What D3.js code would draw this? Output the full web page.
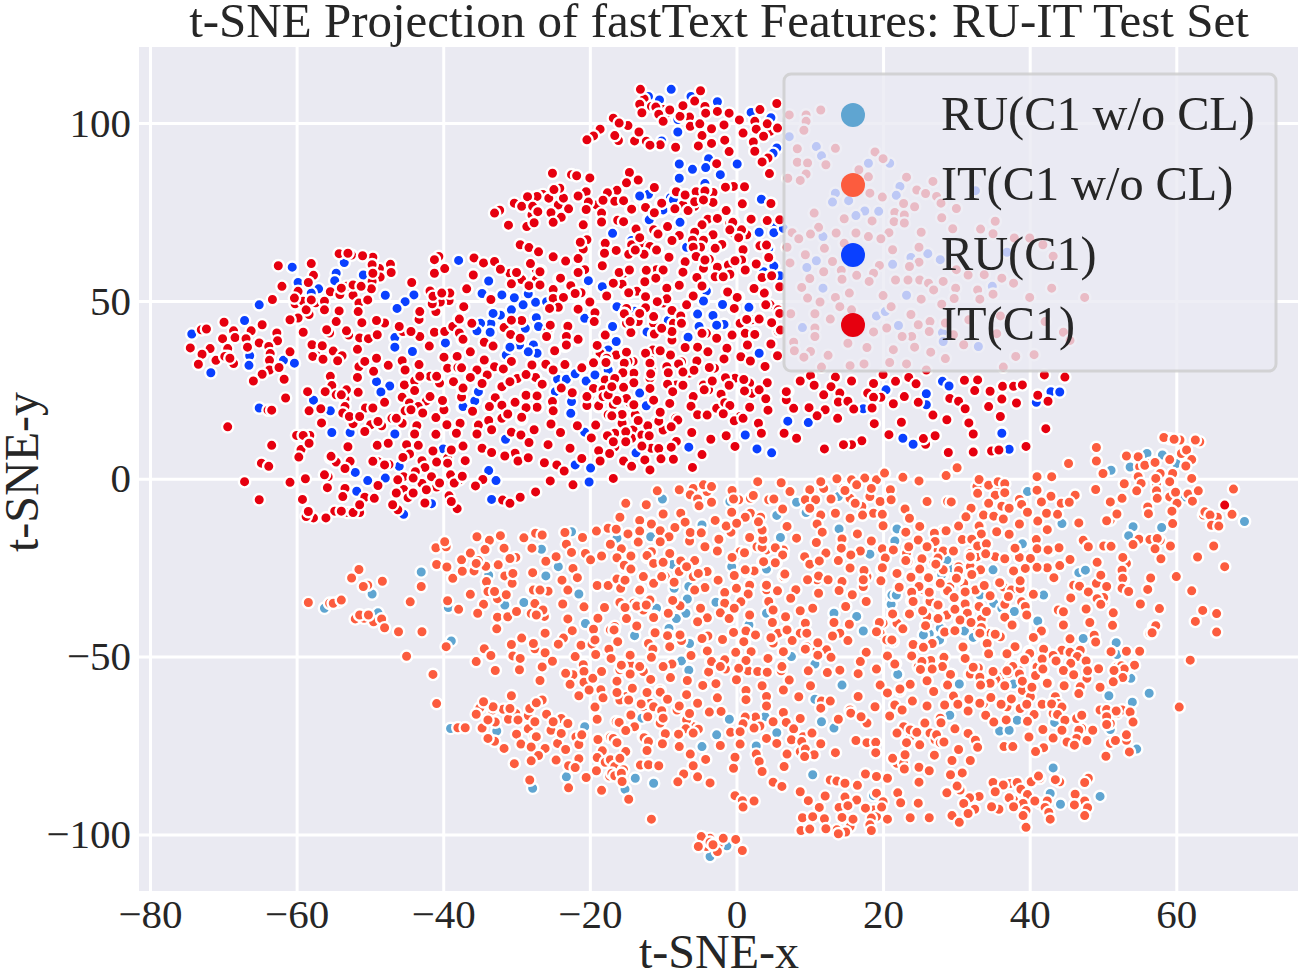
<!DOCTYPE html>
<html>
<head>
<meta charset="utf-8">
<script src="https://cdn.jsdelivr.net/npm/d3@7"></script>
<style>
  html, body { margin: 0; padding: 0; background: #fff; }
  text { font-family: "Liberation Serif", serif; fill: #262626; }
</style>
</head>
<body>
<div id="chart"></div>
<script>
const xTicks = [-80, -60, -40, -20, 0, 20, 40, 60];
const yTicks = [-100, -50, 0, 50, 100];
const legendLabels = ["RU(C1 w/o CL)", "IT(C1 w/o CL)", "RU(C1)", "IT(C1)"];
const seriesColors = ["#5fa5d1", "#fc5c3e", "#0a40ff", "#e6000f"];

// values, [t-SNE-x, t-SNE-y]
const ruBase = [[-43,-26.2],[-49.7,-32.4],[-56.2,-36.4],[-48.9,-37.7],[-38.9,-45.6],[-26.6,-19.8],[-29,-34.8],[-21.5,-32.4],[-26,-27.3],[-24.3,-24.7],[-31.6,-35.5],[-33.8,-27.1],[-20.6,-40.7],[-39,-70.2],[-32.7,-70.9],[-20.7,-69.7],[-23.2,-83.8],[-27.8,-87],[-39.3,-36.2],[-16.4,-16.8],[-22.5,-14.9],
[-10.1,-5.7],[-.9,-6.4],[8.2,-6.6],[5.5,-10.3],[9.5,-9.5],[13.9,-5],[14,-14.1],[6,-16.5],[21.9,-14.1],[21.6,-17.5],[18.2,-21.2],[-8.7,-24],[-.65,-24.7],[4.1,-25.2],[-6.5,-30.3],[-6.7,-33.8],[-2.8,-34.7],[21.7,-32.9],[21.1,-35.3],[16.4,-38.7],[13.3,-37.8],[17.3,-42.8],[-13.9,-44.1],[1.7,-41.1],[-6.4,-46.2],[7.5,-50],[10.7,-52.1],[-7.5,-51.2],[-6.5,-53.8],[22,-55.1],[14.4,-58],[10.7,-62],[11.6,-68.3],[13.3,-70.1],[-.97,-67.6],[-2.7,-72],[-4.7,-75.3],[2.7,-75.1],[-12.9,-67.3],[10.4,-83.2],[-11.3,-85.6],[-13.8,-84.2],[-15.2,-87.3],[18.7,-89.1],[26.3,-43.6],[27.8,-45.3],[27.8,-42],[25.7,-43.4],[3.9,-66.9],[5.5,-71.4],[-3.6,-106.2],[-1.3,-103.2],[-16.3,-16.7],
[69.3,-12],[56,7.1],[53.7,3.3],[51.1,2.4],[39.7,-3.6],[44.4,-12.6],[54.1,-13.5],[58,-13.7],[53.5,-16],[39.1,-18.5],[46.7,-26.4],[47.6,-25.7],[41.9,-32.8],[37.9,-37.3],[41.1,-40],[47.3,-44.9],[51.8,-46.1],[31.2,-43],[32.3,-44.7],[29.4,-25.2],[28.1,-27.1],[33.2,-33],[35.1,-35],[30.4,-57.9],[50.8,-61],[56.3,-60.3],[54,-62.8],[29.1,-66.5],[38.3,-67.9],[35.9,-70.9],[37.2,-70.7],[43.4,-68.5],[43.2,-81.3],[49.6,-89.3],[44.2,-91.5],[42.8,-88.5],[54.6,-76],[58.1,6.7],[60,4.3],[61.2,-5.1],[51.9,-49.4],[53.8,-56.1],[38,-57.8],[51,-70.5],
[-4.7,-13],[-11.7,-16.3],[6,-16.5],[-8.7,-24.1],[4.1,-25.4],[-8.5,-30.8],[-10.9,-36.4],[-6.9,-37.8],[-8.2,-39.3],[-9.2,-42.1],[-6.4,-46.3],[4.1,-37.8],[6.4,-43],[29.4,-25],[41.9,-32.7],[39,-18.3],[26.3,-43.6],[27.7,-45.3],[31.1,-42.8],[32.3,-44.6],[25.5,-43.9],[22,-55],[30.4,-57.7],[26.3,-34.1],[28,-27],[21.2,-32.7],[21.8,-32.7],[26.2,-39.2],[28.7,-22.8],[36.2,-36.4],[37.8,-57.7],[33.2,-32.7],[35,-25.6]];

const itBase = [[-51.5,-25.5],[-52.5,-27.9],[-50.3,-29.9],[-48.3,-28.8],[-58.4,-34.8],[-54.3,-34.7],[-55.5,-35],[-44.5,-34.6],[-43,-30.3],[-52,-39.4],[-50.8,-39.2],[-49.5,-40.2],[-48.4,-39.4],[-48,-41.9],[-46.1,-43],[-42.9,-43],[-45,-49.9],[-39.6,-47.2],[-41.4,-55],[-40.9,-63.2],[-40.9,-24.1],[-41,-19.4],[-39.6,-19.1],[-39.5,-24.8],[-38.7,-28],[-39.4,-34.3],[-37.9,-36.7],[-37.5,-22.8],[-36.3,-20.9],[-35.4,-16.3],[-33.7,-17.3],[-32.2,-16],[-29,-16.6],[-27.4,-15.3],[-26.5,-15.8],[-31.7,-19.5],[-34.3,-19.9],[-37.4,-26],[-35.8,-25.9],[-34.2,-24.6],[-32.5,-24.2],[-35.2,-23],[-30.1,-22.1],[-31.6,-27.3],[-30.6,-29.4],[-27.9,-19.5],[-34,-30.2],[-36.3,-32.5],[-32.6,-33.7],[-31.4,-32.6],[-34.5,-35.3],[-35.3,-37.8],[-32.6,-38.9],[-31.2,-38.8],[-30,-37.3],[-32.7,-42.2],[-28,-37.9],[-27.5,-35.1],[-26.2,-38.7],[-27.9,-31.1],[-25.7,-31.6],[-27.8,-26.4],[-26,-23.2],[-24.6,-21.9],[-23.4,-15.1],[-23.2,-18.4],[-22.5,-20.7],[-21,-16.5],[-19.1,-14.7],[-17.2,-18.4],[-17.5,-13.9],[-20.6,-21],[-18.4,-21.7],[-19.9,-22.8],[-22.3,-25.2],[-21.7,-27.8],[-23.8,-28.5],[-19,-30],[-17.5,-30],[-23,-31.3],[-23.7,-35.2],[-20.8,-36],[-18,-36.2],[-23,-39.4],[-18.9,-39.2],[-16.7,-42.5],[-19.5,-42.3],[-22.4,-42.7],[-23.6,-44.8],[-26.1,-43.4],[-29.3,-44.8],[-30.7,-46.6],[-27.5,-47.8],[-24.3,-46.5],[-21.2,-46.8],[-19.7,-46.5],[-17.4,-47.9],[-34.4,-47.8],[-33.5,-49.7],[-30.5,-49.8],[-35.5,-51.4],[-32.9,-53.9],[-29.6,-53.7],[-26.1,-48.9],[-25.1,-51.3],[-22,-50],[-19.2,-49.4],[-17.1,-50.5],[-26.5,-52.9],[-26.8,-56.7],[-22.3,-55.1],[-23.3,-54.7],[-20.9,-52.3],[-20.8,-54.2],[-18.4,-54.2],[-22.7,-57.8],[-20.8,-57.2],[-19.6,-56.1],[-21.5,-61],[-20.1,-59.4],[-18.5,-59.3],[-18.2,-61.6],[-19.3,-64.2],[-19,-67.6],[-16.4,-68.3],[-30.7,-61],[-26.5,-62.2],[-35,-64.4],[-33.3,-65],[-31.8,-64.8],[-30.1,-66],[-28.4,-66.6],[-25.9,-66.2],[-23.9,-67.4],[-31.1,-67.6],[-32.9,-68.4],[-38,-70],[-37,-70],[-34.7,-70.1],[-28.4,-70.3],[-27.5,-68.3],[-25.3,-70.7],[-23,-68.8],[-30,-71.8],[-33,-73.8],[-27.6,-72.4],[-21.9,-72.6],[-29.4,-74.6],[-24.4,-74.4],[-21.5,-74.7],[-18.9,-73.3],[-17.2,-72.7],[-31.7,-75.8],[-28,-75.4],[-26.1,-75.8],[-23.3,-76.1],[-18.3,-76.5],[-27,-77.8],[-24.6,-79.1],[-28,-79.3],[-30.3,-80.1],[-21.5,-78.7],[-19,-78.4],[-22.9,-80.7],[-22,-81.2],[-17.9,-79.7],[-19.1,-82.1],[-16.6,-80.5],[-20.5,-84],[-17.3,-83.6],[-28.2,-84.7],[-22.9,-86.9],[-18.4,-87.6],
[-55,-35],[-53.9,-34.1],[-51.4,-38.3],[-50.2,-38.3],[-50.9,-30.3],[-39.8,-17.7],[-35.5,-23.8],[-34.1,-28.9],[-33.9,-31.7],[-33,-31.7],[-30.5,-26.6],[-27.7,-31.3],[-26.8,-31.3],[-26.4,-36.9],[-27.3,-38.3],[-30.9,-22.4],[-33.2,-64.1],[-34.5,-62.7],[-35.5,-66.2],[-33.9,-67.8],[-33.9,-73],[-30.9,-64.6],[-29.8,-67.8],[-28.2,-64.6],[-27.3,-63],[-25,-68.3],[-23.9,-71.6],[-27.3,-72.5],[-21.1,-72],[-19.3,-45.3],[-27.7,-46.3],[-29.5,-50.5],[-16.8,-73],
[14.6,-2.7],[15.7,-.3],[17.5,.2],[19.1,-.3],[15.5,-5.5],[18.2,-5],[21,-3.1],[17.1,-7.8],[18.7,-9.7],[10,-3.1],[9.4,-5.9],[11.9,-2.7],[-5.9,-2.7],[-6.3,-4.5],[-4,-3.6],[.3,-5.9],[4.4,-5.9],[1.9,-5.5],[-.2,-21.9],[2.8,-19.1],[4.1,-20],[6.4,-20],[1.4,-26.1],[6.4,-27.5],[4.1,-31.2],[4.4,-34.5],[5.7,-43.4],[6.9,-42.5],[5,-46.2],[8.7,-43.4],[9.6,-47.2],[11,-48.1],[12.3,-48.1],[14.1,-43.4],[19.6,-43.4],[21.4,-45.8],[20,-40.6],[21.9,-40.6],[26,-38.7],[26.4,-34.5],[25.5,-31.2],[28.2,-25.6],[26.9,-23.7],[27.5,-20],[19.8,-25.6],[17.8,-27.5],[17.3,-30.3],[11,-28.4],[11.6,-64.5],[15.5,-65],[17.8,-68.7],[22.8,-69.7],[23.7,-72.5],[26.4,-71.5],[27.1,-73.4],[21.9,-80],[22.8,-80],[12.8,-84.7],[19.1,-88.4],[18.7,-93.1],[16.4,-90.3],[19.1,-95],[13.7,-98.7],[15.5,-97.8],[-4.1,-103.4],[-3.6,-101.1],[-2.5,-102.9],[-12.7,-72.5],[-10.4,-68.7],[-5.9,-69.7],[2.8,-69.7],[9.1,-72.5],[9.1,-75.3],[8.7,-76.7],[-17.2,-79],[-16.6,-80.9],[-15.4,-81.8],[-17,-82.8],[-15.9,-53.7],[-15,-61.2],[-15.9,-62.2],[-12.7,-64.1],[-10.4,-59.4],[-11.8,-63.1],[-8.1,-65],[-6.8,-67.8],[-14,-35],[-12.7,-36.9],[-17.2,-42.5],[-16.6,-41.5],[-14.5,-52.3],
[60.7,7.1],[61.4,8.1],[63.2,10.4],[60.5,10.9],[59.1,11.3],[55,3.4],[56.4,4.3],[57.8,1.5],[54.8,.6],[57.3,-1.3],[59.1,-5.1],[61.6,-4.3],[63.7,-10.2],[65,-10.7],[56.9,-17.7],[57.8,-17.3],[51,-11.6],[53.2,-23.8],[52.8,-28.5],[46,-29.9],[49.1,-29.4],[49.1,-33.2],[50.1,-34.6],[43.9,-36.9],[56.9,-41.6],[56.4,-43.5],[51.9,-52.9],[53,-53.8],[47.8,-56.1],[46.9,-58.5],[49.6,-65],[51,-66],[51.9,-66],[52.6,-65],[51,-68.8],[47.1,-70.2],[46,-74.9],[53.2,-73.5],[51,-74.4],[41.4,-84.2],[44.1,-85.2],[48,-84.2],[35.5,-86.1],[37.3,-85.7],[41.4,-91.3],[37.8,-90.3],[30.5,-87.5],[38.7,-6],[32.8,-2.2],[35.7,-3.2],[33.2,-13.5],[31.9,-21],[32.8,-21.9],[35.3,-21.9],[30.3,-24.7],[31.9,-24.7],[29.1,-30.4],[31,-29.4],[32.6,-31.3],[36.4,-30.4],[37.5,-31.3],[33.7,-37.9],[32.8,-41.6],[34.6,-43.5],[36,-44.4],[43.7,-50.5],[41,-52.9],[36,-55.7],[33.7,-56.6],[33.7,-63.2],[36.9,-64.1],[43.5,-61.3],[43.9,-63.2],[46.4,-67.4],[43.2,-66],
[-10.8,-3.4],[-7.8,-3.1],[-4.5,-1.7],[-3.4,-2.2],[-.6,-3.3],[2.9,-.8],[6.1,-1.1],[7.3,-3.6],[11.5,-.8],[13.7,0],[16.4,-1.7],[18.4,-2.7],[20.2,1.6],[22.7,.4],[24.9,-.6],[-15.1,-6.9],[-12.3,-7.3],[-5.3,-5.7],[-3.4,-6.6],[-.4,-5.7],[2.3,-4.7],[5.1,-5.7],[10.8,-5.9],[12.9,-5.7],[14.8,-3.3],[16.2,-6.9],[19.6,-6.4],[21.1,-5.9],[26,-6.4],[28.8,-6.4],[-10,-9.9],[-7.6,-9.7],[-5.1,-7.6],[-.65,-9.4],[1.9,-9.7],[6.3,-8.5],[10,-8.3],[11.5,-10.2],[13.5,-9.7],[15.5,-11.1],[17.2,-10.2],[19.9,-10],[23,-8.5],[23.6,-11.1],[-15.9,-10.8],[-13.2,-11.7],[-11.6,-12.5],[-7,-12.2],[-2.9,-11.7],[0,-12.5],[1.2,-10.8],[3.3,-10.8],[-1.5,-13.1],[6.9,-13.4],[11,-12.7],[20,-13.2],[25,-13.4],[28.2,-14.6],[27,-15.3],[-16.4,-14.2],[-13.2,-14.7],[-10.4,-14.7],[-8.4,-13.6],[-6.3,-15],[-4.8,-15],[-.75,-15],[3.4,-13.9],[11.7,-15],[16.5,-15.5],[23.1,-15],[-14.7,-15.5],[-9.1,-16.2],[-2.4,-17],[1.8,-16.5],[3.6,-17.2],[8.2,-16.7],[14.4,-16.9],[18.4,-17.5],[24.8,-17.2],[27.1,-17.6],[-13.5,-17.8],[-10.5,-17.6],[-6.4,-17.5],[-15.7,-19.7],[-4.4,-19],[10.9,-17.9],[.5,-20.5],[5.3,-19.3],[3.5,-19.3],[14.3,-19.5],[16.9,-20.3],[19.9,-19.7],[21.3,-20],[23.4,-19.2],[26,-19.1],[-11.6,-20.5],[-9.1,-20.9],[-2.6,-20.3],[1.2,-20.7],[6.3,-21.4],[12.2,-20.9],[9.3,-21.9],[15.6,-21.4],[23.2,-20.9],[20.3,-22.3],[28.2,-20.3],[-16.3,-22.2],[-14.3,-21.7],[-12.2,-22.1],[-7.6,-23],[-5.6,-23],[-.6,-22.1],[3.6,-23.3],[5.4,-23.6],[10,-24],[11.3,-23.1],[13.9,-23],[19.9,-25],[25.3,-22.5],[27.5,-22.3],[-11.3,-23.9],[-10,-24.2],[-15.3,-24.7],[-7.8,-26.1],[-3.9,-26.1],[2.4,-25.9],[-14.4,-25.4],[17.4,-25.8],[15.5,-25.1],[23.4,-23.3],[24.9,-25.3],[-16.3,-28.2],[-12.7,-27.5],[-9.7,-27.5],[-5.9,-27.5],[-.3,-27.2],[6.6,-26.8],[11.2,-27.3],[12.5,-28.4],[14.4,-28.9],[9.7,-28.4],[17.3,-28.4],[19.7,-28.7],[22,-26.6],[23.9,-27.5],[26.2,-27.3],[-11.3,-29.4],[-8.5,-29.1],[-4.3,-30.6],[0,-30.8],[1.8,-29.8],[4.1,-29.8],[8.1,-31.2],[-15.8,-30.8],[-13.1,-31.2],[22.2,-30.3],[25,-30.3],[27.7,-29.6],[11.2,-32.2],[14,-31.4],[15.8,-32.6],[5.5,-31.7],[1.6,-32.2],[-1.6,-32],[26.3,-32],[28.7,-31.7],[7.4,-33.6],[-8.7,-34],[17.7,-34.5],[23.9,-34.3],[-1.6,-34.8],[.6,-34.3],[-11.8,-34],[-15.9,-34.8],[-13.6,-35.6],[-15.3,-36.1],[-12.3,-35.3],[-7.7,-35.7],[-5,-36.2],[-.3,-36.4],[5,-36.9],[8.7,-37.1],[10.4,-36.4],[14.9,-35.9],[21.3,-38.3],[23.6,-38],[27.5,-35.5],[28.7,-38.3],[-9.3,-37.8],[-2.1,-37.6],[1.8,-38.3],[6.8,-38.9],[-11.2,-38.7],[-15,-39.2],[-4.1,-38.9],[27.5,-39],[-1,-39.2],[-5.3,-40.3],[4.9,-40.4],[9.4,-40.6],[13.3,-40.4],[15.4,-40.9],[19.5,-40.4],[25.8,-41.3],[-13.6,-41.3],[-11.1,-43.1],[-16.7,-42.5],[-9.3,-44],[-.4,-43.2],[1.3,-42.9],[-4,-44.2],[2.6,-43.9],[9.6,-43.4],[13.1,-44.2],[19.1,-43],[22.7,-42.2],[28.4,-43.1],[-12,-46.2],[-7.5,-45.5],[-1.9,-45.3],[1.1,-45.9],[4.7,-44.8],[7.6,-45.5],[11.1,-46.1],[15.2,-45.5],[20.5,-45.3],[24.2,-46.5],[26.7,-46.2],[-16.2,-45.8],[-11.3,-47.8],[-14.5,-49.5],[-6.2,-49.7],[-4,-48.4],[-.1,-48.8],[2,-48.6],[6.5,-48.6],[9.4,-47.9],[17.7,-48.8],[-11.6,-50.2],[-1.6,-50.9],[-3.5,-51.4],[4.4,-50.5],[1.3,-51.1],[11.1,-49.6],[12.9,-50.2],[20.6,-49.8],[23.9,-49.8],[28.3,-50],[25.3,-51.4],[-8.8,-52.1],[-15.6,-52.8],[16.9,-51.4],[21.7,-52],[26.6,-51.4],[-3.8,-54.3],[-1.5,-53.5],[.3,-53.8],[1.6,-54],[2.9,-54.2],[4.2,-54.4],[6.1,-54],[9.8,-54],[12.4,-54.5],[14.1,-53.8],[16.6,-54.8],[19.1,-53.5],[24.8,-52.8],[-14.5,-54.9],[-12.7,-54.2],[-16.3,-56.9],[-11.7,-56.4],[-9,-55.9],[-6.7,-56.7],[0,-56.5],[7.2,-56.6],[28.7,-58],[26,-56.6],[-4.6,-58.1],[-2.8,-57.6],[3.5,-58.2],[10.1,-58.2],[19.6,-58],[23.7,-58],[-14.2,-58.9],[-16.3,-60.1],[-12.2,-60.1],[-10.4,-60],[-6.8,-60.7],[1.3,-59.5],[6.4,-59.4],[20.6,-60.2],[22.3,-59.7],[26.9,-59.8],[-14.7,-62.2],[-9.4,-62],[-2.6,-61.6],[1.3,-62.1],[4.1,-61.2],[8.5,-61.3],[11.6,-62.5],[12.8,-62.5],[16.6,-61.2],[-13,-63.3],[-5.3,-63.1],[24,-62.5],[-11.3,-64.1],[-7.8,-63.9],[21.6,-63.6],[26,-63.9],[4.1,-63.9],[11.5,-64.5],[18.9,-64.1],[28.4,-63.6],[-10.2,-65.2],[-2.1,-65.4],[6.4,-65.7],[22.6,-65],[15.6,-65.9],[-14.4,-66.4],[-6.4,-66],[-3.7,-65.6],[-12.1,-66.9],[-10,-67.3],[2.6,-67],[20.9,-66.7],[1.2,-67],[8.7,-67.4],[17,-66.9],[27.8,-67.3],[-16,-68.5],[5,-68.3],[25.7,-68.7],[13.9,-67.6],[.9,-68.9],[6.8,-68.5],[-13.9,-69.7],[-6.9,-70.3],[3.2,-69.5],[2.4,-70.1],[7.8,-70.3],[23.7,-70.6],[-15.1,-70.8],[-5.2,-70.4],[-.8,-71.3],[.5,-71.1],[10.3,-71.5],[21.9,-71.5],[24.6,-71.3],[27.3,-72],[-9.7,-71.7],[-12.6,-72.8],[-7.9,-71.8],[-5.9,-71.5],[4.1,-73],[5.5,-74.4],[7.5,-73.4],[16.3,-73.6],[17.8,-74.2],[19,-74.1],[23.2,-74.2],[25,-74.8],[27.8,-74.2],[-16.3,-74.2],[-12,-73.9],[-10.1,-74.5],[-2.2,-75],[.5,-74.6],[-7.8,-75.3],[8.9,-73.9],[11.5,-74.5],[2.7,-77.4],[-6.3,-77.4],[6.9,-77.4],[9.4,-76],[10.6,-77.6],[13.5,-77],[19,-77],[21.3,-78.6],[23,-77.6],[27,-77.7],[-15.1,-76.7],[-12.2,-76.4],[-15.9,-78.6],[-4.2,-78.9],[-.2,-78.3],[3.1,-79.5],[-13.1,-80.5],[-12,-80.4],[-10.6,-80.7],[-5.9,-80.7],[-.4,-81.4],[6.5,-80.9],[9.3,-78.1],[22.9,-81.6],[24.9,-81.1],[26.3,-82.1],[3.5,-82.3],[-16.6,-83.5],[-15.7,-82.8],[-7.2,-83],[-5.3,-83.8],[17.6,-83],[5,-85.3],[20.6,-84.2],[19.1,-83.7],[13.7,-85],[14.8,-85.6],[16.5,-86.2],[-8,-85.2],[-3.6,-85.5],[24.9,-85.3],[6.2,-86.5],[-15.6,-85.1],[8.7,-88],[12.1,-89.2],[22,-88.3],[28.7,-88.2],[-14.7,-90.1],[-.2,-89.1],[2.4,-90.6],[.8,-90.5],[9.8,-90.5],[14.8,-89.5],[20,-90.8],[22.4,-91.1],[24.8,-91.2],[.9,-92.3],[11.3,-92.4],[14,-92.4],[15.2,-91.9],[17.6,-92.6],[19.8,-92.3],[-11.6,-95.7],[9,-95.3],[10.4,-95],[12,-95.6],[14.4,-95.2],[15.9,-95.7],[18.4,-95.4],[20.6,-95.7],[23.7,-95.3],[26.3,-95.3],[18.2,-97.3],[8.8,-98.9],[10,-98.5],[12.2,-98.4],[18.4,-98.9],[14.9,-99.3],[13.9,-99.8],[-4.8,-100.6],[-1.8,-101.1],[-.1,-101.4],[-3.6,-102.2],[.8,-104.5],[-2.6,-104.8],[-3.2,-102.9],[-5.2,-103.4],
[49.1,8.8],[45.3,4.3],[49.1,5],[30.1,3.1],[28.6,.9],[53.2,6.4],[54.8,6.2],[58.3,11.6],[59.7,11.1],[62.6,10.9],[55.7,3.8],[57.1,4.6],[59.1,5.4],[62.1,5.4],[61.3,3.6],[50,1.5],[41,.6],[43,.6],[33.1,-.2],[34.4,-1.8],[35.7,-.8],[36.6,-1.4],[57.2,.1],[59.5,1.5],[62.1,.1],[55.2,-1.3],[59.1,-.8],[52.9,-1.4],[49,-3],[41,-3.2],[54.6,-3.4],[67.8,-2.9],[63,-3.4],[57.3,-3.4],[59.9,-3.8],[32.9,-4.1],[35.3,-4.6],[36.6,-3.9],[42.9,-4.9],[46.2,-4.6],[52.6,-5.5],[38.6,-5.8],[57.4,-5.5],[29.3,-6.5],[34.4,-6.9],[38.9,-7.2],[41.6,-6.5],[44.3,-6.9],[45.4,-6.6],[51,-6.5],[60.1,-6.9],[62.2,-6.3],[36.2,-7.7],[32,-8.3],[37.2,-8.3],[39.7,-9.4],[42.3,-9.7],[43.8,-10],[56.1,-7.9],[56.2,-9.8],[59.4,-9.1],[63.9,-9.3],[67.6,-10],[51.9,-9.9],[33.7,-10.2],[31.3,-10.7],[35.1,-10.5],[36.4,-11.3],[65.6,-10.8],[64.6,-10.2],[50.5,-11.8],[41.1,-11.9],[38.6,-12.7],[46.7,-12.4],[30.3,-13.3],[33.1,-13.3],[35.5,-14.9],[59.5,-12.6],[64.8,-13.1],[65.8,-13.3],[42.4,-14.3],[28.6,-14.6],[54.9,-17],[33.4,-15.5],[37.2,-15.6],[56.4,-17.1],[57.4,-16.8],[30.8,-17.1],[32.1,-17],[40.9,-17.1],[47.3,-17.3],[48,-19.1],[54.1,-18.5],[34.1,-18.5],[32.9,-18.9],[50.1,-18.9],[51.1,-19],[59.2,-18.9],[65.1,-18.9],[37.9,-19.7],[41,-19.7],[42.8,-20.2],[44,-19.4],[57.1,-19.7],[29.6,-20.3],[31.9,-22],[36.6,-22.6],[38.6,-22.1],[40.1,-22.5],[45.5,-22.7],[52.7,-22.1],[57.9,-22.5],[62.9,-22],[49.2,-23.5],[34,-21.1],[42.4,-25],[44.1,-24.4],[39.5,-25.2],[37.8,-26],[66.6,-24.7],[32.1,-26.9],[33.2,-25.7],[52.6,-25.7],[52.7,-28],[56.5,-27.9],[49.7,-27.1],[60,-27.5],[43.3,-28],[35.9,-29.2],[38.7,-28.8],[30.2,-28.3],[46.8,-30.2],[50.5,-30.3],[33.8,-30.1],[31.2,-31.9],[38.7,-30.9],[52.6,-30.8],[53.5,-31.7],[56.1,-31.1],[62.1,-31.5],[48,-31.8],[40.5,-32.5],[28.7,-31.8],[34.6,-32.9],[37.1,-33.2],[50.1,-33.4],[45.6,-33.5],[49.2,-33.7],[55.1,-35.2],[31.2,-35.3],[29.7,-33.4],[38.9,-34.6],[39.4,-36],[36.6,-35.3],[33.2,-36.1],[47.7,-36.6],[49.7,-35.3],[57.7,-36.5],[63.6,-37],[65.5,-37.9],[29.8,-36.7],[44.6,-37.4],[51.4,-37.7],[34.1,-37.4],[31.6,-37.9],[39.6,-38.5],[62.6,-40.1],[36.6,-38.8],[30.5,-39.8],[32,-40.4],[33.4,-39.5],[48.2,-40.4],[37.7,-41.1],[44.6,-41.1],[51.3,-41.2],[57.2,-41.3],[33.4,-41.8],[41.7,-42.9],[29.8,-42.5],[56.7,-43.3],[65.5,-43.1],[33.2,-43.8],[35.3,-43.7],[48.8,-44],[40.6,-44.7],[45.5,-45],[34.2,-46.3],[49,-45.9],[30.9,-47.3],[38,-47.3],[42,-48],[44.4,-48.2],[46.9,-48.2],[39.9,-48.6],[51.1,-48.6],[53.2,-48.5],[55,-48.5],[34.4,-49.3],[36.9,-49.3],[43,-49.6],[45.5,-48.8],[31.3,-50.4],[28.3,-50.2],[41.7,-50.7],[39.2,-50.8],[43.6,-51.2],[46.5,-50],[47.7,-51.2],[61.9,-51],[54.3,-52.4],[28.1,-52.7],[32.9,-53.3],[37.4,-52.6],[45.6,-51.9],[52.5,-52.6],[49.4,-53.4],[47.9,-54],[52.9,-53.5],[41.8,-53.6],[44.6,-53.9],[51.5,-53.9],[29.3,-55.1],[31.8,-55],[38.6,-54],[46,-55.1],[37.1,-54.7],[33.2,-55.9],[35.4,-56.4],[39.1,-57.1],[41,-55.5],[52.7,-55.9],[42.3,-57.1],[51.4,-57.1],[34.7,-57.5],[28.8,-58.1],[33.4,-58.2],[36.6,-58.2],[42.5,-57.4],[44.7,-58.2],[49.6,-58.6],[39,-59.5],[40.3,-58.9],[46.7,-60.4],[60.4,-64.2],[29.6,-61.1],[34.7,-61.5],[37.5,-61.9],[40.1,-61.3],[31.7,-62],[33.2,-63.1],[30.2,-63.4],[36.1,-63.4],[41.7,-63.4],[43,-63.3],[38.7,-64.6],[44.4,-64.2],[39.6,-63.4],[31.6,-65.3],[50.5,-64.9],[34,-66.5],[40.6,-66.3],[43.8,-66.3],[47.1,-66.5],[51.8,-65.3],[53.7,-65.6],[35.1,-68.4],[36.8,-67.8],[39.7,-68.2],[44.8,-67.9],[50.5,-66.9],[27.9,-68.6],[54.1,-68.4],[50.5,-69.1],[29.8,-70.3],[41.8,-70.5],[44.4,-70.7],[48.6,-70.7],[46.7,-70.7],[31.6,-71.6],[39.9,-72.6],[53.2,-72],[43.2,-72.9],[46.4,-73],[32.6,-73.5],[45.1,-74],[47.8,-73.6],[51.7,-73.6],[28.3,-74],[36.5,-75.3],[37.7,-75.3],[32.9,-75.5],[30.3,-76.1],[41.9,-75.6],[40.8,-76.7],[46.1,-74.9],[53.6,-76.8],[50.4,-78],[29.4,-79.2],[31.9,-79.2],[30.8,-82.7],[29.2,-83.2],[43.5,-84.6],[35,-85.4],[38.3,-85.4],[40.2,-85.2],[47.5,-85.4],[41.2,-83.6],[30.1,-86.4],[36.4,-86.1],[38.8,-87.3],[35.3,-88],[28.7,-88.3],[39.7,-88.8],[46.2,-88.7],[33.1,-89.3],[31.8,-89.7],[37.2,-89.7],[42.4,-90.6],[40.7,-90.6],[39.1,-91.3],[47.5,-90.6],[46.1,-91.7],[31,-91.3],[47.9,-92.5],[42.1,-92.4],[32.5,-92.9],[35.8,-92.9],[34.8,-92.2],[37.8,-92.2],[39.5,-93.3],[42.6,-93.8],[31.6,-94.1],[39.1,-94.7],[29.4,-94.7],[47.5,-94.7],[42.8,-95.7],[30.4,-96.6],[39.5,-98],
[-11.6,-12.7],[-8.4,-13.7],[-13.2,-14.7],[-14.8,-15.5],[-10.4,-14.6],[-9.2,-16.3],[-10.4,-17.7],[-13.4,-17.8],[-6.3,-15.1],[-4.8,-15.2],[-1.4,-13.3],[.03,-12.5],[-2.4,-17],[1.8,-16.5],[3.6,-17],[-4.3,-19.1],[-2.6,-20.3],[1.1,-20.8],[3.5,-14.4],[3,-12.1],[5.3,-19.4],[6.3,-21.4],[-9.1,-21],[-11.6,-20.5],[-12.2,-21.6],[-14.4,-21.7],[-11.3,-23.8],[-10,-23.5],[-7.6,-23.1],[-5.7,-23],[-15.3,-24.3],[-14.4,-25.4],[-7.8,-26.1],[-4,-26.1],[2.4,-25.9],[3.7,-23.3],[5.3,-23.6],[1.2,-25.6],[-6.8,-24.7],[-5.2,-26.6],[-11.3,-29.4],[-8.5,-29.1],[-12.7,-27.5],[-10.2,-27.5],[-2.5,-28.5],[1.8,-29.9],[4.1,-29.9],[6.6,-26.8],[0,-30.8],[-1.6,-32],[5.6,-31.5],[1.6,-32.4],[-13.2,-31.3],[-8.7,-34.2],[-11.8,-34.1],[-13.6,-35.8],[-12.3,-35.5],[-15.2,-36.2],[-4.9,-36.4],[-1.6,-35],[.6,-34.6],[-.3,-36.4],[5,-36.9],[-9.3,-37.8],[-2.2,-37.7],[1.8,-38.3],[-11.3,-39],[-15,-39.3],[-3.97,-39.1],[-1,-39.3],[-5.3,-40.2],[6.7,-38.8],[-13.6,-41.4],[-11.1,-43.3],[-.4,-43.2],[1.3,-42.8],[-3.9,-44.2],[2.6,-43.9],[-9.4,-44.1],[-7.5,-45.5],[-12,-46.3],[-1.9,-45.2],[1,-45.8],[4.7,-44.7],[-11.4,-47.9],[-14.5,-49.6],[-6.2,-49.7],[-3.97,-48.4],[-.1,-48.8],[2,-48.6],[6.4,-48.6],[-8.8,-52.1],[-11.6,-50.2],[-1.6,-50.9],[-3.4,-51.4],[4.3,-50.5],[1.3,-51.1],[-15.7,-52.4],[-9.1,-47.2],[-7.7,-43.9],[-13.2,-52.8],[-10,-52.8],[.3,-53.3],[6.2,-52.8],[-2.2,-52.8],[-4.7,-44.9],[-15.2,-28.5],[-5.7,-31.3],
[23.5,-19.1],[21.4,-20],[26,-19.1],[29.6,-20.3],[32.9,-18.9],[34.1,-18.3],[23.1,-23],[25.3,-22.5],[27.2,-24],[31.9,-21.9],[34,-21.1],[36.6,-22.5],[38.6,-22.1],[40.1,-22.4],[42.5,-20],[38,-19.5],[21.9,-26.6],[23.8,-27.7],[25,-25.4],[26.2,-27.8],[33.3,-25.6],[30.3,-25.8],[32.1,-26.9],[35.9,-29.2],[38.7,-28.7],[37.8,-25.9],[39.4,-25.2],[41,-24.9],[43.3,-27.8],[24.9,-30.3],[27.7,-29.7],[31.2,-31.8],[33.8,-30],[34.6,-32.9],[37.1,-33.1],[26.3,-31.9],[23.9,-31.9],[22.2,-30.5],[28.8,-31.5],[40.5,-32.5],[29.7,-33.4],[24.1,-34.5],[27.5,-35.5],[31.2,-35.2],[33.1,-35.9],[36.6,-38.9],[39.4,-35.9],[39.6,-38.3],[21.3,-38],[23.6,-38],[25.4,-37.1],[27.5,-39.3],[29.8,-36.7],[31.5,-37.8],[34.1,-37.3],[37.6,-41.1],[30.5,-39.7],[32,-40.4],[33.4,-41.8],[22.7,-42.2],[29.8,-42.7],[35.3,-43.7],[33.2,-43.4],[41.6,-42.8],[40.5,-44.6],[21.2,-45.3],[24.1,-46.6],[26.7,-46.3],[25.5,-47.4],[30.9,-47.3],[34.2,-46.3],[38,-47.2],[41.9,-47.9],[40,-49.1],[43.2,-49.7],[23.9,-49.8],[21.6,-52.1],[28.3,-50.2],[26.5,-51.1],[25.3,-51.4],[31.2,-50.5],[34.4,-49.2],[36.9,-49.2],[39.3,-50.9],[41.7,-50.7],[43.6,-51.2],[28.1,-52.8],[26.7,-53.5],[25.1,-53.6],[37.7,-52.8],[33,-53.2],[31.9,-54.9],[29.2,-55],[35,-54.2],[36.9,-54],[38.6,-54.9],[40.8,-55.3],[41.8,-53.5],[26,-56.8],[33.2,-55.8],[34.6,-57.5],[36.6,-58.2],[39,-56.9],[42.4,-57.5],[23.7,-57.8],[28.8,-58],[33.3,-58],[40.3,-58.6],[22.3,-59.1],[32.3,-53],[30,-28],[27.8,-29.4]];

const ruC1 = [[-74.3,40.7],[-67.1,44.5],[-60.6,59.5],[-53.5,60.8],[-54.6,57.8],[-50.9,57.3],[-54.8,55.7],[-57,53.4],[-58,52.2],[-59.8,55.2],[-47.9,51.6],[-65.1,48.9],[-44,51.7],[-45.2,49.8],[-46.3,47.9],[-37.9,61.4],[-46.6,39.7],[-46.6,37],[-44.2,35.8],[-39.7,38.2],[-66.4,34.6],[-66.5,31.9],[-60.3,32.5],[-71.7,29.8],[-61.8,33.3],[-49.1,27.3],[-47.3,26.1],[-48.5,24.4],[-57.7,22.1],[-55.4,19.1],[-65.1,19.9],[-37.4,20.2],[-55.2,13],[-52.7,13],[-46.6,12.6],[-52,1.8],[-50.3,-.5],[-47.9,.2],[-51.8,-3.5],[-46,3.5],[-40,8.4],[-41.6,-7],[-45.4,-10],
[-34.7,52.2],[-30.4,51],[-29.1,48.9],[-27.5,49.6],[-32.1,46.1],[-33.5,43.4],[-34.9,43.7],[-33.6,41.1],[-27.4,45.4],[-27.7,37.6],[-31.4,34.8],[-29.6,37.6],[-30.9,37.2],[-35.7,21.9],[-35.2,24.3],[-37.3,20.2],[-16.9,42.8],[-16.4,38.6],[-13.8,47],[-12.2,41.4],[-6.6,39.7],[-5.4,46.3],[-3.3,45.9],[-1.7,43.4],[-4.5,50],[-1.9,49.1],[1.7,48.2],[3.1,35.3],[-20.5,27.6],[-24.4,28],[-23.2,28],[-13.2,24.1],[-22.6,18.3],[-20.7,13.1],[-31.5,11.1],[-12.3,20.5],[-19.9,3],[-20.1,-.9],[1.2,12.3],[-6.5,8.9],[4.8,7.3],[-33.8,2.3],[-32.8,-.5],[-33.4,-5.8],[-22,3.9],[-13.7,7.3],[2.8,8.4],[6.9,16.1],
[7.2,96.2],[10.9,93.4],[11.6,90.8],[18,88.7],[20.9,88.7],[22.3,82.2],[13.5,80.3],[21.8,79.7],[32.6,81],[13.1,77.8],[15.3,78.2],[17.5,75.3],[19.4,75.2],[16.3,74],[11.8,68.1],[26.1,63.3],[10.9,61.3],[21.3,60.3],[9.6,59.4],[27.8,61.6],[23.8,62.2],[36.9,63.7],[11.8,53.6],[34.9,54.1],[23.2,51.6],[19.1,45.8],[20.3,47],[22.1,43.1],[9,42.5],[28.1,41.1],[33,37.2],[28.2,38.6],
[7,16.2],[9.8,15.8],[17.3,19.7],[20.4,25],[25.9,23.9],[28.1,27.4],[29,26.1],[42.9,24.5],[44.1,24.4],[36.2,13],[37.2,8.3],[24.1,9.7],[22.7,11.4],[40.9,21.5],[25.9,20.8],[36.2,12.8],
[-8.9,109.5],[-12,107.5],[-10.5,106.5],[-6.2,107.5],[-2.6,106],[-8,101],[-10.2,95],[-8,97.5],[2,103],[4.7,101.5],[5.5,93],[5,91.5],[.1,88.5],[-3.8,90],[-7.8,88.5],[-6,87],[-4.2,87.5],[-7.8,84.5],[-2.2,85.5],[-4.3,83],[-12,80],[-9,79],[-13.2,79],[-8.2,78],[-10.3,75.2],[-12,73],[-7.7,72.2],[-16.9,69],[-14.3,67],
[-33.8,55.6],[-34.7,52.1],[-30.3,50.9],[-29.1,48.9],[-27.4,49.6],[-32.2,46],[-33.5,43.6],[-34.9,43.7],[-35.4,41.6],[-33.6,41.2],[-27.3,45.3],[-27.7,37.6],[-31.4,34.8],[-29.6,37.6],[-30.9,37],[-20.2,55.7],[-18.3,54],[-16.9,42.8],[-16.4,38.6],[-33.2,46.5],[-32,51.7],[-28.4,52],[-25.9,49.8],[-30.7,47.5],[-25.9,42.8],[-28.8,42.3],[-27,42.8],[-27.2,35.3],[-28.4,35.7],[-20.5,27.5],[-24.4,28],[-23.2,28],[-35.7,21.9],[-35.2,24.5],[-37.3,20.3],[-22.6,18.4],[-24.7,24.5],[-22,29.5],[-19.3,29.2],[-17.5,36.2],[-16.3,48.4],[-20.7,45.1],[-22.5,21.7],[-17.5,30.6],
[-13.2,79.5],[-10,75.6],[-8.6,78.4],[-11.9,72.8],[-7.7,72.1],[-6.8,65.1],[3.1,69.3],[5.1,71.5],[5.1,69.2],[4.4,64.8],[5.1,59.8],[3.7,58.2],[5.9,57.1],[3.4,78.6],[-4.1,52.8],[-4.5,50],[-1.9,49],[1.7,48.2],[-13.9,47.1],[-9.3,44.5],[-5.3,46.3],[-3.2,45.9],[-1.7,43.4],[-5.1,42.8],[-2.7,43.2],[-12.2,41.3],[-6.6,39.8],[6.4,70.4]];

const itC1 = [[-62.5,59.9],[-58,60.5],[-54.2,63.3],[-52.5,62.9],[-49.6,62.3],[-47.2,60.3],[-47.1,58],[-48.7,59.1],[-48.6,56.7],[-57.7,57.2],[-58.4,55.2],[-49.7,55.5],[-49.8,53.4],[-62,54.1],[-59.8,52.7],[-55.4,52.6],[-54.1,51.8],[-52.3,51.6],[-63.3,50.4],[-60.2,49.2],[-59.1,49.9],[-57.4,49.5],[-56.2,49.9],[-56.2,47.5],[-54.2,47.2],[-51.5,49.4],[-50.3,50.3],[-51.6,47],[-58.3,46.2],[-59.8,45.2],[-60.9,44.7],[-54.6,44.2],[-51.1,43.9],[-69.9,44],[-64.7,43.3],[-73,41.9],[-68.6,41.6],[-66.2,41.6],[-70.1,39.4],[-68.4,39.7],[-66.9,39.4],[-62.7,41],[-62.6,38.8],[-65.1,38.2],[-66.7,37],[-74.5,36.8],[-71.8,36.6],[-69.4,36.6],[-72.9,35],[-63.8,37.2],[-63.6,35.2],[-60.9,35.7],[-71,33.3],[-69.4,34.4],[-68.6,32.4],[-73.4,32.2],[-63.7,33.3],[-63.7,30.6],[-62.4,31.3],[-64.7,29.4],[-65.9,27.5],[-61.7,28],[-59.1,41.2],[-55.5,41],[-52.9,40.4],[-51.4,39.6],[-50.2,39.4],[-57.9,37.7],[-56.5,37.4],[-55,35.9],[-57.2,34.5],[-53.8,34.6],[-51.7,36.4],[-49.1,33.9],[-51.5,31.5],[-47.5,31.9],[-49.5,30.2],[-51.7,28.5],[-55.4,28.8],[-55.2,26.2],[-56.1,24.5],[-58.5,24.5],[-61.5,22.7],[-63.9,19.3],[-53.4,22.4],[-51.6,24.3],[-53.4,20.3],[-56.7,19.7],[-58.3,19.1],[-48,21.5],[-50.6,19.9],[-52.3,15.5],[-56.6,15.7],[-49.9,15.2],[-48.4,14.9],[-50.7,13.3],[-69.4,14.6],[-58.2,12.2],[-59.9,12],[-53,9],[-63.4,9.4],[-59.4,8.2],[-49,9.4],[-47.5,10],[-64.8,4.4],[-63.8,3.5],[-55.4,5.9],[-54.6,4.7],[-52.7,4.9],[-53.4,2.9],[-48.9,4.8],[-47.4,4],[-55.7,.6],[-58.8,0],[-60.9,-1],[-67.1,-.8],[-48.9,-1.9],[-55.8,-2.5],[-53.4,-2.7],[-53.7,-5],[-50.7,-5.2],[-49.4,-5.5],[-59.2,-5.8],[-65.1,-5.9],[-46.2,-8.7],[-54.8,-9.1],[-51.4,-9.5],[-57.7,-11],[-58.7,-10.6],[-56,-11],[-45.5,41.4],[-43.2,40],[-41.9,37.3],[-45.6,33.2],[-43.3,32.1],[-45.2,30.6],[-45.3,26.4],[-43.9,27.5],[-43.9,24.8],[-42.3,21.9],[-45.6,22.9],[-44.6,21.3],[-45.2,19.1],[-43.4,20.3],[-45.6,15.6],[-43.6,14.9],[-43.9,12.6],[-47,17],[-45,9.6],[-43.4,9.4],[-44.6,7],[-45.5,6],[-42.9,5.1],[-42.5,3.2],[-43.8,2],[-45.4,.6],[-41.6,.6],[-42.9,-1.3],[-45.4,-3],[-40.9,-2.3],[-44.8,-5.3],[-42.5,-6.8],[-41.4,7.8],[-40.9,4.7],[-39.4,5.8],[-39,1.1],[-37.4,.6],[-37,5.1],[-39.2,-4.8],[-38.1,-8.4],[-37.3,9.3],[-41,12.5],[-38.3,13.1],[-39.5,15.2],[-37.7,15.6],[-41,17.2],[-39.9,19.4],[-40.1,22],[-37.5,23],[-37.4,25.7],[-40.5,26.9],[-38.7,27.2],[-39.4,31.1],[-38.1,31.2],[-39.9,34.2],[-38.1,34.3],[-37.4,39.1],[-41.2,41.2],[-39.8,41.4],[-37.9,45],[-41,47],[-37.3,48.3],[-39.2,50.1],[-40.4,49.7],[-41.5,49.2],[-41.8,52.8],[-36.8,53.4],[-41.2,57.8],[-39.8,59.1],[-40.6,62.5],[-44.3,55.2],[-43.3,44.8],[-48,43.8],
[-51,62.7],[-72.3,42.1],[-53,63.4],[-49.7,60.2],[-55.9,41.9],[-53.2,41.6],[-49.1,44.5],[-49,40.5],[-46,42.8],[-44.4,41.4],[-69.8,34.4],[-69.1,33.9],[-57.8,34.4],[-56.4,33.6],[-54.4,33.2],[-50.7,33],[-53.2,25],[-54.6,23.6],[-53.9,23.6],[-53.7,18.5],[-52.8,17.5],[-51.4,17.5],[-49.6,19.9],[-48.9,16.1],[-63.4,19.3],[-60,12.2],[-59.1,12.2],[-58.3,10],[-59.7,6.1],[-56.2,1.1],[-55.3,6.3],[-49.6,4.9],[-48,3.9],[-46.9,-7.3],[-53,-9.5],[-52.3,-9.5],[-53.9,-9.1],[-51.4,-7.3],[-58.4,-9.2],[-46.4,17],[-44.4,19.4],[-41.8,23.1],[-42.8,18.5],[-41.8,28.8],[-43.2,28.8],[-40.9,28.8],[-38.7,42.8],[-37.8,41],[-39.1,52.2],[-41.4,51.3],[-43.2,47],[-40.2,52.2],[-49.6,57.8],[-53.2,54.1],[-52.3,54.5],[-51.2,54.1],[-53.9,53.6],[-60.3,50.8],[-58.7,47.5],[-58,50.3],[-41.2,61.6],[-39.4,4.4],[-38.9,8.1],[-37.8,-.3],[-38.5,-1.2],[-46.2,-.3],[-46.4,-4],[-44.1,.2],[-44.1,-4],[-42.3,-3.1],[-40.5,-1.2],[-38.9,-6.4],
[-14.8,33],[-11.4,36.2],[-11.8,33.4],[-11.6,30.6],[-11.8,28.3],[-16.3,26.9],[-19.1,25],[-20,23.1],[-16.8,20.8],[-14.5,21.2],[-13.8,18],[-17.5,18],[-16.1,12.8],[-16.6,12.8],[-16.6,9],[-14.1,13.7],[-14.3,11.4],[-12.9,12.3],[-12.7,9.5],[-11.6,8.6],[-8.2,10.5],[-8.3,17],[-10,13.7],[-10.9,16.1],[-3.8,25],[-3.2,27.8],[-2.7,19.8],[-.7,20.3],[.5,17.5],[-3,31.1],[-4.1,40.9],[-2.7,39.5],[-10,49.4],[-8.6,43.7],[-11.3,43.7],[-15,47.9],[-13.8,45.1],[-15,43.7],[-18.6,35.3],[-14.1,33],[-16.4,34.8],[-17.7,33.9],[-9,34.8],[-9.5,31.5],[-7.5,32.9],[-6.4,29.7],[-8.2,26.4],[-4.5,26.4],[-.2,28.3],[1.8,26.9],[2.1,24],[.5,43.7],[1.2,40.9],[2.1,44.7],[4.6,48.9],[5.7,47.5],[5.7,41.4],
[-12.6,106.8],[-11.6,104.7],[-10,103.8],[-9.5,102.8],[-6.4,101.7],[-4.3,104.7],[-7.7,101.9],[-16.8,101.4],[-16.1,95.1],[-12.3,94.9],[2.5,100.5],[4.6,97.7],[4.3,90.2],[-.4,82.2],[-3.2,80.5],[-5.7,76.6],[-7.3,77],[-24.3,77],[-23.6,78.9],[-26.4,79.9],[-27.2,79.4],[-24.1,81.7],[-32.3,75.5],[-22.5,85.5],[-19.1,77],[-20.4,67.2],[-27.9,74.2],[-15.4,72.4],[-11.3,70],[-3.2,68.6],[-.4,69.1],[-.9,71.9],[1.4,68.6],[5.9,72.8],[-14.3,65.8],[-12.7,65.8],[-11.8,65.3],[-30.9,57.8],[-29.3,56],[-27.3,58.8],[-20.7,58.8],[-15.4,57.8],[-10.9,58.8],[-20.9,52.2],[-13.6,52.7],
[-13.1,109.5],[-4.9,109.1],[-5.7,106.2],[-13.2,105.3],[-11,104.5],[-7.3,104.9],[-12.9,102.9],[-10.6,102.5],[-9.1,103.7],[-10,100.5],[-4.2,102.8],[-2.6,103.3],[-1,102.8],[3.2,103.8],[5.5,105.5],[-6.3,99.1],[-5,99.8],[-3.4,98.4],[-1.7,99.5],[.4,100.9],[2.7,98.3],[4.2,99.8],[5.6,98.6],[.9,97.2],[3.7,96.3],[-4.7,96.5],[-1.6,95.2],[-3.4,94.3],[-5.2,93.6],[2.3,94.7],[-8.3,93.2],[-10.4,93.9],[-11.8,93.8],[-13.9,95],[-13.3,97.5],[-14.8,99.3],[-16,100],[-16.6,96.5],[-18.6,98.3],[-19.5,96.4],[-20.4,95.3],[2.5,92.1],[3.5,89.1],[-1,92],[4.5,85.8],[-2.7,88.6],[-25.1,85.9],[-21.8,85.2],[-20,84.6],[-14.6,86.1],[-15,83.2],[-13.4,84],[-11.2,81.9],[-8.3,80.9],[-16.3,81.1],[-17.6,80.4],[-20.5,80.7],[-21.6,79.5],[-1.5,82],[1.1,82.1],[-4.2,81.2],[-5.4,80.8],[-7,79.9],[-3.2,77.7],[.8,77.3],[4.7,77.4],[-28.5,79.3],[-25.6,78.9],[-24.9,81.3],[-30.3,77.5],[-29.3,76.6],[-27.8,76.6],[-22.9,75.9],[-27.1,75.1],[-25.3,74.8],[-23.9,73.5],[-33,74.7],[-31.1,71.3],[-28.6,70.9],[-27.6,72],[-25,72.1],[-20.9,71.4],[-20.2,77.8],[-20.5,75.7],[-18.2,78.3],[-15.4,78.3],[-16.6,78],[-18.4,74.7],[-18.4,72.2],[-14.4,75.8],[-12.4,76.2],[-10.3,77.5],[-11.2,74.7],[-8.5,75.8],[-6.6,75.4],[-16.2,72.7],[-9.4,70.9],[-13.7,70.2],[-10.7,68.9],[-13.2,67.9],[-7.9,68.4],[-8.7,67],[-17.9,66.2],[-20.9,64.6],[-21.3,66.5],[-29.5,65.8],[-28.3,65],[-27,63.8],[-25,62.4],[-16.4,64.2],[-18,63.4],[-14.7,63.2],[-12.6,63.3],[-10.8,64.4],[-9.2,62.5],[-7,61.1],[-5.9,66.9],[-4.8,65.2],[-4.4,67.2],[-5.7,69.4],[-3.8,73],[-2.5,73.4],[-1.4,75.5],[-.4,72.4],[1.9,73],[4.2,72.6],[.3,67.9],[.7,70],[3.2,65.7],[.9,64.4],[-2.1,65.8],[-3.7,62],[-2.6,59.7],[.7,61.5],[-1.1,60.2],[2.7,60.4],[4.4,62.3],[-35.8,62.1],[-34.5,60.7],[-33,61.1],[-32.2,58.9],[-28.1,60.5],[-26.7,58.5],[-30,58],[-23.3,61.2],[-21.6,61.9],[-21.6,58],[-24.2,56.3],[-18.3,59.9],[-14.6,58.8],[-12.3,58.6],[-10,58.7],[-7.3,58.2],[-4.5,59.2],[-5.4,56.7],[-3,57],[-1,57.6],[1.2,58.7],[3.5,56.6],[4.7,57.1],[-35.9,57.3],[-30.7,54.8],[-27.4,55.9],[-28.2,54.4],[-22.6,54.3],[-16.8,54.9],[-15.6,54.7],[-12.5,55.4],[-10.9,56.4],[-7.8,54.5],[-4.6,54.3],[-36.8,53.3],[-21.2,52.4],[-14.7,52.5],[-9.5,53.6],[-5.9,51.7],[-12.4,51.4],[-1.3,52.6],[2.4,53.6],[3.9,52.2],[-25,53.2],[-23.7,51.3],[-17.7,51.5],[.3,51.1],[-33.5,50.8],
[11.5,103.7],[7.2,102.3],[9.5,102.3],[9.5,100.5],[9.2,98],[8.3,92.8],[13.5,92.9],[8.3,89],[9.7,88.8],[12.2,88.3],[18.9,91.9],[20,90],[16.7,86.9],[9.5,85.7],[18,84.9],[7,84.5],[8.7,83.9],[23.2,84.8],[26.8,83.6],[24.6,81.2],[25.8,80.2],[19.9,79.2],[18.2,80.3],[27.3,79.4],[22.8,77.4],[24.3,76.5],[27.9,77.5],[30,76],[21.6,74.9],[22.9,74.2],[14.7,73.1],[10.6,74.7],[18.5,72.5],[21.5,72.3],[22.9,71.9],[28,73.4],[35.3,72.4],[33.3,70.2],[29.5,70.3],[11.2,70.7],[20.8,69.2],[16.3,69.1],[13.6,69.1],[7.6,69.2],[10.1,68.8],[25.2,69.3],[35,68.9],[18,68.1],[19.7,67.5],[8.5,67.5],[37.9,67.7],[40,67.7],[14.7,66.2],[24.9,65.1],[12,64.8],[21.3,64.4],[41.8,65.8],[6.9,65.1],[43.2,62.6],[9.4,63],[7.3,60.7],[13.1,61.1],[19.5,60],[24.9,60.9],[23.6,59.7],[30,58.8],[11.9,58.2],[14.3,58.6],[18.7,57.8],[16.4,57.2],[10,56.3],[14.4,56.1],[21.7,55.9],[23.4,55.9],[25,55.9],[31.6,57.3],[33.8,57.4],[36.2,56.4],[37.8,55],[18.1,55.5],[26.2,55],[28.2,55.5],[8.9,53.8],[15.4,52.2],[26.9,53.1],[29.9,53.6],[32.9,53.1],[43,53.6],[47.5,51],[20,51.5],[9.7,50.8],[13.5,51],[25.2,50.5],[29.7,50.7],[33.2,50.5],[35,51.9],[40,51],[11.4,49.7],[14.1,48.4],[21.1,48.4],[28,49.1],[36,45.8],[7.4,46.4],[10.7,46.4],[23.8,46.2],[26.4,44.2],[15.7,47.5],[20.5,42.4],[12.8,44.9],[10.7,42.4],[28.5,43.8],[31.7,44.7],[18.7,41.3],[24.8,43.3],[26.3,41.4],[23.9,40],[22.6,40],[35.5,40.8],[10.7,40],[7.8,38.4],[15.2,38.1],[17.8,36.9],[10.1,35.8],[21.4,36.3],[24.3,37],[26.5,35.6],[29.6,40.5],[31,37.7],[44.6,41.2],[45.5,38.9],[42.1,44.2],[12.5,34.7],[7.9,36],[9.2,34.2],[20.9,32.7],[23.2,32.3],[28.5,33.8],[38.1,34.4],[40.6,34.9],[36.4,31.4],[15.5,31.8],[17.4,32.3],[11.6,31.4],[25.9,30.6],
[8.7,27.5],[10.1,29],[13.5,28.6],[15.7,27.5],[10.6,26.3],[12.9,25.9],[20,29.3],[18.7,26.8],[21.7,27.4],[23.5,28.5],[24.5,26.7],[31.1,27.7],[32.9,27.8],[36.3,26],[37.8,26],[39,26.4],[42,29.2],[44.8,28.6],[7,24.6],[11.9,23.6],[14.1,24.1],[32.5,24.8],[34.6,24.6],[41.1,23.5],[6.8,22.2],[13.9,21.6],[15.2,21.8],[19.7,22.9],[22.9,23.1],[17.9,24.1],[18.7,22.9],[21.4,21.1],[24.8,21.5],[29.1,22.6],[30.3,21.8],[36.2,22.4],[38.2,21.3],[42.5,21.8],[7.8,19.8],[9.9,20],[12.1,19.4],[16,19.6],[18.5,19.9],[31.2,19.7],[34.4,20.3],[11,17.7],[13.8,17],[26.8,17.9],[28.7,16.6],[36,17.5],[22.5,15.9],[18.8,15.5],[31.7,15.9],[42.2,14.1],[6.6,12.8],[8.2,11.4],[20.8,12.4],[32.3,12.6],[27.1,12.1],[25.8,9.7],[25.5,11.3],[12,8.4],[17.1,10.7],[15.7,9.6],[14.6,9.6],[28.9,7.5],[32.3,7.8],[34.9,7.9],[35.8,8.1],[39.5,9.1],[66.6,-7.4],[31.7,15.7],[28.9,7.4],[32.3,7.5],[34.8,7.8],[35.8,8.1],
[-37.3,48.2],[-37.8,44.9],[-36.1,43.7],[-33.5,50.3],[-31.7,42.6],[-29.3,44.4],[-37.3,39],[-34.3,38.3],[-33.2,37.4],[-36.3,35.7],[-38.1,34.4],[-34.4,33.2],[-38,31.3],[-35.4,30.6],[-33,31.5],[-31.8,30.9],[-36.3,28.5],[-38.6,27.3],[-34.8,26.9],[-37.4,25.5],[-30.7,33],[-27.9,32.1],[-25.9,32],[-23.4,32],[-24.8,35.9],[-23.4,37.4],[-21.6,39],[-25.8,40],[-23,43],[-24.3,48.1],[-23.6,51],[-21.6,47.7],[-20.2,49.8],[-19.4,46.5],[-19.4,44],[-17.9,40.4],[-15.3,46.3],[-14.4,41.2],[-12.4,48.2],[-11.3,45.4],[-8.9,47.3],[-7.4,43.5],[-9.1,41.4],[-11.3,40.7],[-8.8,39],[-6.8,49],[-5.9,51.2],[-19.1,37.4],[-15.1,35.7],[-12.4,35.3],[-10.4,36],[-7,36.9],[-5.3,37],[-3.9,35.7],[-1.3,36.7],[1.5,37.6],[4.7,37.9],[5.6,34.6],[-.6,40.4],[2.5,40.7],[1.4,44.9],[4.8,43.9],[3.1,45.1],[-.4,47.9],[3.9,52],[-19.5,33],[-17.8,32.8],[-21,31.4],[-14.8,33],[-11.8,32.5],[-7.9,32.3],[-5.4,33.1],[-1.7,33.7],[.6,34.3],[1.9,33.1],[3.9,31.6],[-3.7,31.3],[-5.8,30.5],[-9.3,29.8],[-7.3,30],[-14,29.7],[-15.6,29.8],[-11.7,29.5],[-1.5,28.4],[-3.3,27.5],[1,27.9],[4.2,27],[-1,26.3],[-7.3,26.3],[-9.4,26.6],[-11.8,25.4],[-14,27],[-16.5,27.6],[-17.9,28],[-15.4,25.6],[-18.2,25.1],[-19.4,25],[-23.9,25.5],[-29.8,28.3],[-27.4,28.5],[-26.5,26.7],[-32,25.9],[-30.9,27.3],[1.1,24.7],[-4.4,25],[3.1,25],[-2.1,23.8],[-8.7,24.5],[-22.4,24.2],[-20.4,23],[-15,22.6],[-11.3,22.1],[-16.3,22],[-5.9,23.1],[6.8,24.5],[4,22.5],[-27.2,23.3],[-28.7,23.5],[-32.8,22.9],[-30.2,21.6],[-32.1,20.8],[-33.8,20.3],[-27.1,20.1],[-28.7,20],[-25.1,21.5],[-25,19.1],[-18.8,20.3],[-20.4,20.6],[-14,20.8],[-9.1,21.2],[-6.2,20.4],[-1.6,21.4],[-.9,20.6],[1.8,20.1],[4.3,19.3],[-36,19],[-31.3,18.1],[-29.3,16.8],[-16.9,17.8],[-15.6,18],[-10.6,16.2],[-10.4,18.7],[-8,16.5],[-5.3,18],[-4,17.9],[-1.8,18.3],[-.3,16.3],[.9,17],[3,15.6],[6.5,12.8],[3.4,12.8],[-1.4,12.1],[-3.5,11.1],[-6.1,13],[-8.9,14.6],[-12.1,14.9],[-13.4,16.4],[-15.6,15.6],[-19.2,15.1],[-21.7,14.9],[-25.3,15.4],[-37.7,15.6],[-35.2,15.1],[-33.8,16.4],[-32,17],[-33.4,13.8],[-27.6,13.8],[-38.2,12.8],[-35.4,12.6],[-30.7,13.1],[-29.4,12.3],[-24,13],[-19.8,11.5],[-15.1,13.2],[-11.9,12.1],[-17.6,12.1],[-16.8,10.4],[-15.1,10.4],[-28.3,10.2],[-25.7,9.6],[-22.7,8.6],[-37.3,9.2],[-34.7,8.6],[-33.4,7.4],[-30.2,7.2],[-31.6,6.4],[-8.9,8.9],[-12.9,9.2],[-10.6,8.5],[-18.8,7.9],[-17.3,7.1],[-37,5.1],[-29.8,5],[-28.4,5.9],[-26.2,4.5],[-24.5,3.9],[-21.1,5.7],[-18.6,5],[-15.4,5],[-12.5,5.3],[-10.3,5.6],[-8.6,5.5],[-14.3,3.5],[-11.8,2.5],[-6,3.2],[-4.7,6.8],[-.2,9.1],[-23.5,2.2],[-37.4,.7],[-34.6,-.2],[-35.6,-2],[-25.4,-.6],[-22.3,-1.7],[-16.8,.1],[-27.4,-3.7],[-29.5,-5.2],[-31.9,-6],[-30.9,-6.9],
[-35.9,57.3],[-36.8,53.4],[-33.5,50.4],[-30.7,54.8],[-30,58],[-27.3,56],[-28.3,54.3],[-25,50.7],[-23.6,51],[-21.2,52.3],[-20,49.7],[-17.7,51.4],[-16.8,55],[-14.9,52.3],[-16,58],[-21.6,58],[-24,56.4],[-26.8,58.2],[-24.3,48.2],[-25.5,47.9],[-21.6,47.7],[-19.3,46.7],[-19.4,44.2],[-15.3,46.5],[-37.2,48.4],[-36.1,43.7],[-29.3,44.5],[-31.7,42.5],[-23,42.9],[-17.9,40.4],[-25.7,41.8],[-30.8,40.6],[-25.9,40],[-29.5,39.5],[-21.6,39.2],[-23.2,40],[-37.3,39.2],[-34.4,38.4],[-33.2,37.3],[-36.3,35.7],[-23.4,37.3],[-24.8,36],[-19,37.5],[-15,35.6],[-34.4,33.4],[-30.7,33],[-26,32.2],[-23.4,32.1],[-19.5,32.6],[-17.8,32.7],[-15.3,32.5],[-35.4,30.6],[-33,31.5],[-31.8,30.9],[-27.9,32],[-21.1,31.2],[-37.5,31.2],[-15.5,29.8],[-36.3,28.5],[-34,29.2],[-34.7,26.8],[-29.9,28.2],[-27.4,28.5],[-28.7,29.3],[-26.5,26.6],[-32,25.9],[-30.9,27.3],[-23.9,25.5],[-19.5,25.4],[-17.9,27.8],[-16.6,28.2],[-15.4,25.7],[-18.2,25],[-37.3,25.5],[-20.4,23.1],[-32.9,22.8],[-28.7,23.5],[-27.2,23.3],[-30.2,21.5],[-32,20.7],[-33.7,20.3],[-27.2,20.1],[-28.7,20],[-25.1,21.7],[-25,19.1],[-18.8,20.5],[-15.6,18.1],[-17,17.7],[-36,19],[-31.2,18.2],[-29.3,17.3],[-18.2,23.1],[-17.5,23.6],[-17,25.9],[-30.7,44.6],[-25.4,43.2],[-22,52.1],[-26.8,54.5],[-25,30.6],[-23.2,37.6],
[-15.4,78.2],[-14.3,75.8],[-12.4,76.3],[-11.2,74.8],[-10.2,77.5],[-8.4,75.9],[-6.6,75.4],[-8.2,80.7],[-7,79.8],[-5.5,80.7],[-4.3,80.9],[-5.7,77.9],[-4.5,78.4],[-15.4,72.3],[-13.7,70.2],[-13.2,67.8],[-10.7,68.8],[-9.4,70.9],[-7.8,68.4],[-8.8,67],[-3.9,73],[-2.6,73.2],[-1.4,75.4],[-4.7,71.4],[-5.7,69.3],[.8,77.3],[2,73],[-.5,72.1],[4.2,72.6],[4.7,77.4],[-.9,70],[.3,67.8],[3.2,65.5],[-2,65.9],[-4.5,67.1],[-4.9,65.1],[-6,67.1],[-5.9,65.1],[-14.7,63.1],[-12.6,63.1],[-10.9,64.3],[-9.2,62.3],[-7,61],[-3.7,61.7],[-2.6,59.5],[.7,61.5],[-1.1,60.1],[2.7,60.4],[4.4,62.2],[-14.6,58.7],[-12.3,58.6],[-10,58.7],[-7.3,58.1],[-4.5,59.2],[-5.4,56.6],[-2.9,56.8],[-.9,57.5],[1.2,58.7],[3.5,56.6],[4.8,57.1],[-12.5,55.4],[-11,56.4],[-7.8,54.4],[-4.7,54.2],[-9.5,53.6],[-14.7,52.3],[-12.4,51.2],[-5.9,51.4],[-1.2,52.5],[2.4,53.5],[3.8,52.2],[5.9,54],[.1,51],[-9.5,50.6],[-6.8,48.9],[-10.8,49.8],[-12.4,48.1],[-15.3,46.4],[-8.8,47.3],[-11.3,45.6],[-7.6,45.8],[-13.4,44.2],[-.3,47.9],[4,48.9],[5.9,46.5],[1.4,44.8],[3.1,44.9],[4.8,43.9],[-8.8,41.4],[-11.2,40.7],[-4.7,40.9],[-.6,40.4],[2.5,40.6],[-14.4,41.1],[-7.5,43.7],[-10.2,42.3],[6,41.8],[-13.2,46.5],[-14.5,44.2],[4.1,65.7],[-5.5,62.5],[-.2,61.3],[-4.3,61.5],[-13.8,64.3],[-1.8,56.8],[-2.9,64.8]];

const allSeries = [ruBase, itBase, ruC1, itC1];

const width = 1300, height = 980;
const plotLeft = 139, plotRight = 1298, plotTop = 47, plotBottom = 891;

const svg = d3.select("#chart").append("svg")
    .attr("width", width)
    .attr("height", height)
    .style("display", "block");

const x = d3.scaleLinear().domain([-81.5, 76.6]).range([plotLeft, plotRight]);
const y = d3.scaleLinear().domain([-115.9, 121.4]).range([plotBottom, plotTop]);

svg.append("rect")
    .attr("x", plotLeft).attr("y", plotTop)
    .attr("width", plotRight - plotLeft).attr("height", plotBottom - plotTop)
    .attr("fill", "#eaeaf2");

const minusFormat = d => String(d).replace("-", "\u2212");

// Grid and tick labels come from the same axes
const xAxis = svg.append("g")
    .attr("transform", `translate(0,${plotBottom})`)
    .call(d3.axisBottom(x).tickValues(xTicks).tickSize(-(plotBottom - plotTop)).tickPadding(8).tickFormat(minusFormat));
const yAxis = svg.append("g")
    .attr("transform", `translate(${plotLeft},0)`)
    .call(d3.axisLeft(y).tickValues(yTicks).tickSize(-(plotRight - plotLeft)).tickPadding(8).tickFormat(minusFormat));

[xAxis, yAxis].forEach(a => {
    a.select(".domain").remove();
    a.selectAll(".tick line").attr("stroke", "#fff").attr("stroke-width", 3);
    a.selectAll(".tick text").attr("font-size", 41).attr("fill", "#262626")
        .style("font-family", '"Liberation Serif", serif');
});

// Same paint order as the series list, later groups on top
allSeries.forEach((points, i) => {
    svg.append("g").selectAll("circle")
        .data(points)
        .join("circle")
        .attr("cx", d => x(d[0]))
        .attr("cy", d => y(d[1]))
        .attr("r", 5.7)
        .attr("fill", seriesColors[i])
        .attr("stroke", "#fff")
        .attr("stroke-width", 2.4);
});

svg.append("text")
    .attr("x", 719).attr("y", 37)
    .attr("text-anchor", "middle")
    .attr("font-size", 49)
    .text("t-SNE Projection of fastText Features: RU-IT Test Set");

svg.append("text")
    .attr("x", 719).attr("y", 968)
    .attr("text-anchor", "middle")
    .attr("font-size", 48)
    .text("t-SNE-x");

svg.append("text")
    .attr("transform", "translate(38,472) rotate(-90)")
    .attr("text-anchor", "middle")
    .attr("font-size", 48)
    .text("t-SNE-y");

// Legend, translucent like the original frame
const legend = svg.append("g");
legend.append("rect")
    .attr("x", 784).attr("y", 74)
    .attr("width", 492).attr("height", 297)
    .attr("rx", 7)
    .attr("fill", "#eaeaf2").attr("fill-opacity", 0.8)
    .attr("stroke", "#cccccc").attr("stroke-opacity", 0.8).attr("stroke-width", 3);

legendLabels.forEach((label, i) => {
    const rowY = 115 + i * 70;
    legend.append("circle")
        .attr("cx", 853).attr("cy", rowY)
        .attr("r", 12)
        .attr("fill", seriesColors[i]);
    legend.append("text")
        .attr("x", 941).attr("y", rowY + 15)
        .attr("font-size", 48.3)
        .text(label);
});
</script>
</body>
</html>
